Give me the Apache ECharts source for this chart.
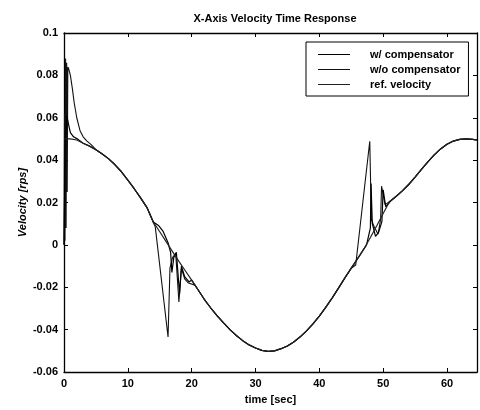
<!DOCTYPE html>
<html><head><meta charset="utf-8">
<script src="https://cdn.jsdelivr.net/npm/echarts@6/dist/echarts.min.js"></script>
<style>html,body{margin:0;padding:0;background:#fff}#c{width:480px;height:410px}</style>
</head><body><div id="c"></div>
<script>
// reference velocity (time [sec], velocity [rps])
const refVelocity = [
[0,0.050],[1,0.050],[2,0.0495],[3,0.048],[4,0.0466],[5,0.0449],[6,0.0429],[7,0.0406],[8,0.0378],[9,0.0345],
[10,0.0306],[11,0.0265],[12,0.0222],[13,0.0176],[14,0.0108],[15,0.0062],[16,0.0015],[17,-0.0032],[18,-0.0078],[19,-0.0122],
[20,-0.0166],[21,-0.0212],[22,-0.0258],[23,-0.0298],[24,-0.0335],[25,-0.0368],[26,-0.0400],[27,-0.0428],[28,-0.0452],[29,-0.0472],
[30,-0.0487],[31,-0.0498],[32,-0.0503],[33,-0.0500],[34,-0.0490],[35,-0.0477],[36,-0.0458],[37,-0.0434],[38,-0.0406],[39,-0.0373],
[40,-0.0336],[41,-0.0295],[42,-0.0251],[43,-0.0204],[44,-0.0156],[45,-0.0110],[46,-0.0065],[47,-0.0018],[48,0.0035],[49,0.0090],
[50,0.0148],[51,0.0205],[52,0.0228],[53,0.0255],[54,0.0285],[55,0.0320],[56,0.0356],[57,0.0392],[58,0.0425],[59,0.0453],
[60,0.0475],[61,0.0490],[62,0.0498],[63,0.0500],[64,0.0498],[64.7,0.0495]
];
// w/o compensator transients
const woStart = [[0,0],[0.08,0.062],[0.15,0.002],[0.25,0.088],[0.33,0.008],[0.42,0.086],[0.5,0.025],[0.6,0.084],[0.75,0.083],[1.0,0.080],[1.3,0.074],[1.6,0.067],[2.0,0.060],[2.5,0.054],[3.0,0.051],[3.6,0.049],[4.3,0.0472]];
const woMid = [[14.0,0.0104],[14.3,0.0085],[16.3,-0.0435],[16.6,-0.0110],[17.0,-0.0060],[17.5,-0.0040],[18.0,-0.0270],[18.4,-0.0110],[18.9,-0.0160],[19.5,-0.0180],[20.5,-0.0190]];
const woEnd = [[45.7,-0.0095],[47.9,0.0489],[48.15,0.0120],[48.6,0.0085],[49.2,0.0050],[49.6,0.0120],[49.75,0.0277],[50.3,0.0190],[51.2,0.0208]];
// w/ compensator transients
const wStart = [[0,0],[0.2,0.050],[0.45,0.061],[0.7,0.057],[1.0,0.053],[1.5,0.051],[2.2,0.0498]];
const wMid = [[14.3,0.0100],[14.8,0.0092],[15.5,0.0065],[16.3,0.0010],[16.7,-0.0035],[16.9,-0.0130],[17.2,-0.0060],[17.6,-0.0035],[18.1,-0.0230],[18.4,-0.0100],[18.9,-0.0150],[19.6,-0.0175]];
const wEnd = [[46.3,-0.0060],[47.4,0.0000],[48.0,0.0080],[48.1,0.0290],[48.3,0.0100],[48.8,0.0040],[49.3,0.0060],[49.8,0.0110],[50.0,0.0260],[50.4,0.0180],[51.2,0.0208]];

const xTicks = [0,10,20,30,40,50,60];
const yTicks = [-0.06,-0.04,-0.02,0,0.02,0.04,0.06,0.08,0.1];

function merge(base, segs){
  const pts = base.filter(p => !segs.some(s => p[0] >= s[0][0] && p[0] <= s[s.length-1][0]));
  segs.forEach(s => s.forEach(p => pts.push(p)));
  return pts.sort((a,b)=>a[0]-b[0]);
}
const withComp = merge(refVelocity, [wStart, wMid, wEnd]);
const withoutComp = merge(refVelocity, [woStart, woMid, woEnd]);

const F = 'Liberation Sans, Arial, sans-serif';
const chart = echarts.init(document.getElementById('c'), null, {renderer:'canvas'});
const lab = {color:'#000', fontFamily:F, fontSize:11, fontWeight:'bold'};
const fmtY = v => yTicks.some(t=>Math.abs(t-v)<1e-9) ? String(+v.toFixed(2)) : '';
const fmtX = v => xTicks.some(t=>Math.abs(t-v)<1e-9) ? String(v) : '';
const line = {onZero:false, lineStyle:{color:'#000', width:1.3}};
const tick = {inside:true, length:4, lineStyle:{color:'#000'}};
chart.setOption({
  animation:false,
  backgroundColor:'#fff',
  title:{text:'X-Axis Velocity Time Response', left:270, top:8, textAlign:'center',
    textStyle:{fontFamily:F, fontSize:11, fontWeight:'bold', color:'#000'}},
  grid:{left:64, top:33, right:3, bottom:37},
  legend:{orient:'vertical', left:306, top:42, width:164, itemWidth:32, itemHeight:1, itemGap:4,
    padding:[7,8,6,12], backgroundColor:'#fff', borderColor:'#000', borderWidth:1, borderRadius:0,
    textStyle:{color:'#000', fontFamily:F, fontSize:11, fontWeight:'bold', padding:[0,0,0,15]},
    data:[{name:'w/ compensator', icon:'rect'},{name:'w/o compensator', icon:'rect'},{name:'ref. velocity', icon:'rect'}]},
  xAxis:[
    {type:'value', min:0, max:64.7, interval:10, position:'bottom',
     name:'time [sec]', nameLocation:'middle', nameGap:22, nameTextStyle:lab, nameMoveOverlap:false,
     axisLine:line, axisTick:tick,
     axisLabel:Object.assign({margin:6, showMaxLabel:false, formatter:fmtX}, lab), splitLine:{show:false}},
    {type:'value', min:0, max:64.7, interval:10, position:'top',
     axisLine:line, axisTick:tick, axisLabel:{show:false}, splitLine:{show:false}}
  ],
  yAxis:[
    {type:'value', min:-0.06, max:0.1, interval:0.02, position:'left',
     name:'Velocity [rps]', nameLocation:'middle', nameGap:36, nameRotate:90, nameMoveOverlap:false,
     nameTextStyle:Object.assign({}, lab, {fontStyle:'italic'}),
     axisLine:line, axisTick:tick,
     axisLabel:Object.assign({margin:6, formatter:fmtY}, lab), splitLine:{show:false}},
    {type:'value', min:-0.06, max:0.1, interval:0.02, position:'right',
     axisLine:line, axisTick:tick, axisLabel:{show:false}, splitLine:{show:false}}
  ],
  series:[
    {name:'w/ compensator', type:'line', data:withComp, showSymbol:false, lineStyle:{color:'#000', width:1.2}, itemStyle:{color:'#000'}, z:3},
    {name:'w/o compensator', type:'line', data:withoutComp, showSymbol:false, lineStyle:{color:'#111', width:1.1}, itemStyle:{color:'#111'}, z:2},
    {name:'ref. velocity', type:'line', data:refVelocity, showSymbol:false, lineStyle:{color:'#222', width:1.2}, itemStyle:{color:'#222'}, z:4}
  ]
});
</script></body></html>
